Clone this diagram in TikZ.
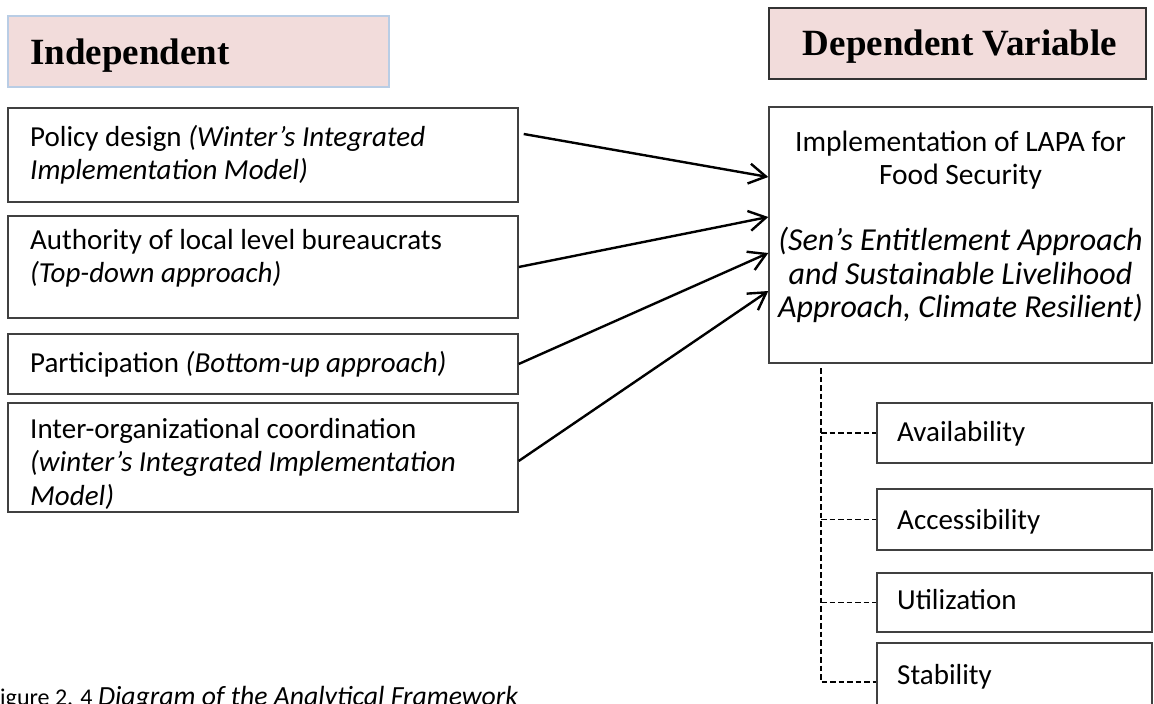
\documentclass[tikz,border=0pt]{standalone}
\usepackage{fontspec}
\setmainfont{Carlito}
\newfontfamily\headfont{Liberation Serif}
\usetikzlibrary{arrows.meta}
\definecolor{headfill}{HTML}{F2DCDB}
\definecolor{headblue}{HTML}{B9CDE5}
\definecolor{boxline}{HTML}{404040}
\newcommand{\lbox}[1]{\parbox[t]{480pt}{\raggedright #1}}
\newcommand{\cbox}[1]{\parbox[t]{383pt}{\centering #1}}
\begin{document}
\begin{tikzpicture}[x=1pt,y=-1pt,
  box/.style={draw=boxline, line width=1.4pt, rectangle, inner sep=0pt},
  headbox/.style={rectangle, inner sep=0pt, fill=headfill},
  txt/.style={inner sep=0pt, anchor=base west, font=\fontsize{29}{33.5}\selectfont},
  ctxt/.style={inner sep=0pt, anchor=base, font=\fontsize{29.5}{33}\selectfont},
  citxt/.style={inner sep=0pt, anchor=base, font=\fontsize{32}{33.5}\selectfont\itshape},
  headtxt/.style={inner sep=0pt, font=\headfont\bfseries\fontsize{37}{44}\selectfont},
  link/.style={line width=2.4pt, -{Straight Barb[length=17pt,width=20pt,line width=2.4pt]}},
  tree/.style={line width=1.4pt, dash pattern=on 5.5pt off 3pt}]
\path[use as bounding box] (0,0) rectangle (1154,704);
\clip (0,0) rectangle (1154,704);

% headings
\node[headbox, draw=headblue, line width=2.5pt, minimum width=381pt, minimum height=71pt] (ind) at (198.5,51.5) {};
\node[headtxt, anchor=base west] (indt) at (30,64) {Independent};
\node[headbox, draw=black!80, line width=2pt, minimum width=377pt, minimum height=71pt] (dep) at (957.5,43.5) {};
\node[headtxt, anchor=base] (dept) at (960,55) {Dependent Variable};

% independent variable boxes
\node[box, minimum width=510pt, minimum height=94pt] (b1) at (263,155) {};
\node[txt] (b1t) at (30,146) {\lbox{Policy design \textit{(Winter’s Integrated}\\\textit{Implementation Model)}}};
\node[box, minimum width=510pt, minimum height=102pt] (b2) at (263,267) {};
\node[txt] (b2t) at (30,249) {\lbox{Authority of local level bureaucrats\\\textit{(Top-down approach)}}};
\node[box, minimum width=510pt, minimum height=60pt] (b3) at (263,364) {};
\node[txt] (b3t) at (30,372) {Participation \textit{(Bottom-up approach)}};
\node[box, minimum width=510pt, minimum height=109pt] (b4) at (263,457.5) {};
\node[txt] (b4t) at (30,438) {\lbox{Inter-organizational coordination\\\textit{(winter’s Integrated Implementation}\\\textit{Model)}}};

% dependent variable box
\node[box, minimum width=383pt, minimum height=256pt] (rb) at (960.5,235) {};
\node[ctxt] (rbt) at (960.5,151) {\cbox{Implementation of LAPA for\\Food Security}};
\node[citxt] (rbi) at (960.5,250.5) {\cbox{(Sen’s Entitlement Approach\\and Sustainable Livelihood\\Approach, Climate Resilient)}};

% dimension boxes
\node[box, minimum width=275pt, minimum height=60pt] (av) at (1014.5,433) {};
\node[txt] (avt) at (897,441) {Availability};
\node[box, minimum width=275pt, minimum height=61pt] (ac) at (1014.5,519.5) {};
\node[txt] (act) at (897,529) {Accessibility};
\node[box, minimum width=275pt, minimum height=59pt] (ut) at (1014.5,602.5) {};
\node[txt] (utt) at (897,609) {Utilization};
\node[box, minimum width=275pt, minimum height=78pt] (st) at (1014.5,682) {};
\node[txt] (stt) at (897,684) {Stability};

% arrows
\draw[link] ([shift={(5,-21)}]b1.east) -- ([shift={(0,-58)}]rb.west);
\draw[link] (b2.east) -- ([shift={(0,-18)}]rb.west);
\draw[link] (b3.east) -- ([shift={(0,18)}]rb.west);
\draw[link] ([shift={(0,3.5)}]b4.east) -- ([shift={(0,56)}]rb.west);

% dashed tree
\coordinate (trunk) at (821,368);
\draw[tree] (trunk) -- (trunk |- st.west) -- (st.west);
\draw[tree] (trunk |- av.west) -- (av.west);
\draw[tree] (trunk |- ac.west) -- (ac.west);
\draw[tree] (trunk |- ut.west) -- (ut.west);

% caption
\node[inner sep=0pt, anchor=base west] (cap) at (-11,705) {\fontsize{24}{28}\selectfont Figure 2. 4 \fontsize{27.7}{32}\selectfont\itshape Diagram of the Analytical Framework};
\end{tikzpicture}
\end{document}
